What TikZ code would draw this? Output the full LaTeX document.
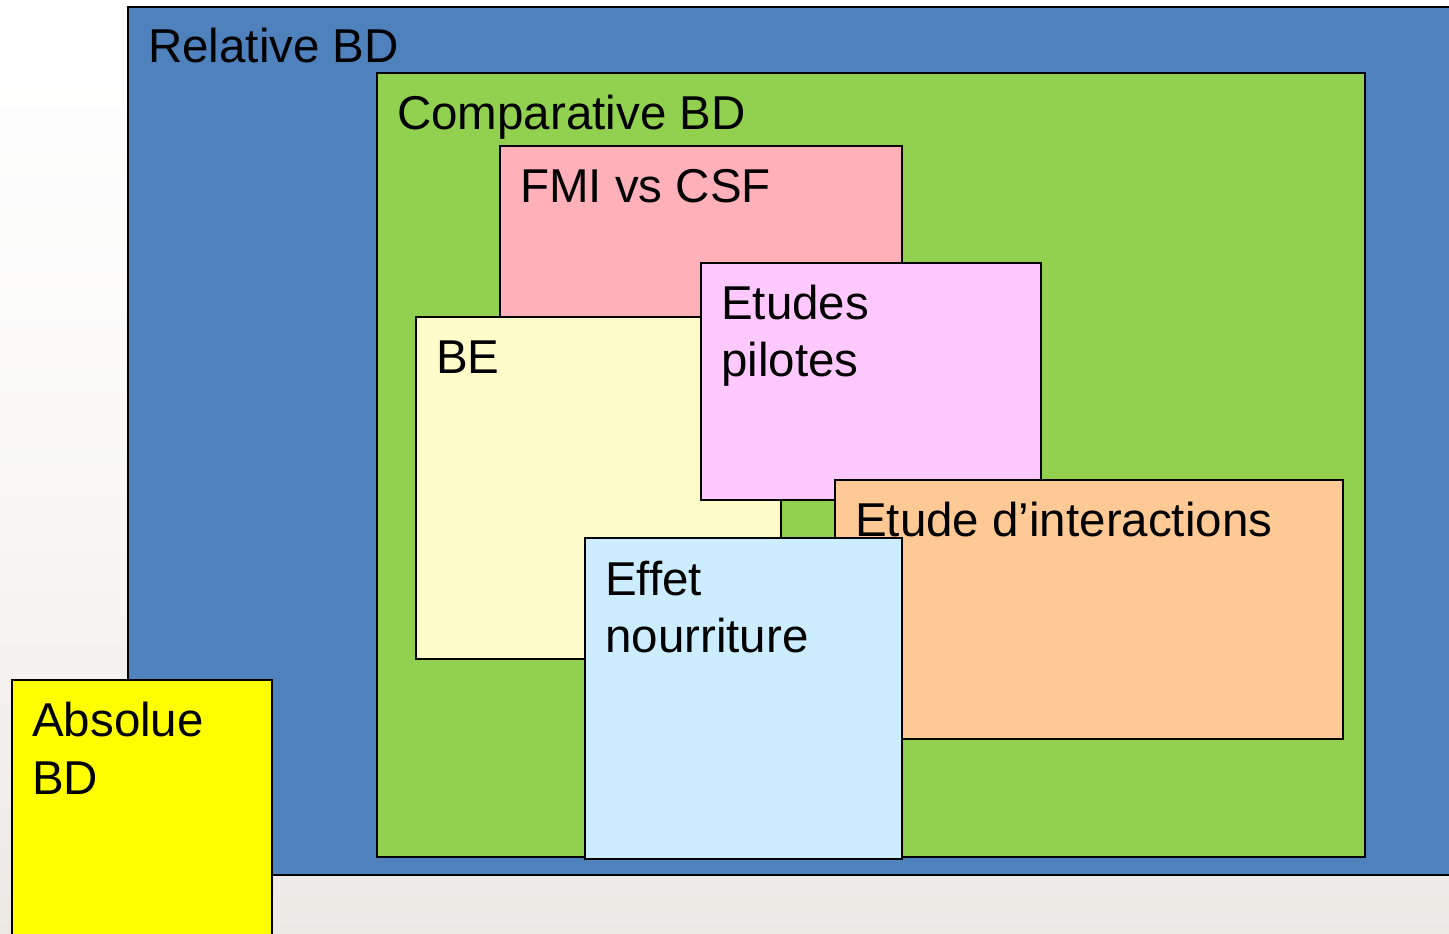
\documentclass[tikz,border=0pt]{standalone}
\usepackage{fontspec}
\setmainfont{Liberation Sans}
\definecolor{relblue}{HTML}{4F81BD}
\definecolor{compgreen}{HTML}{92D050}
\definecolor{fmipink}{HTML}{FFB0B9}
\definecolor{beyellow}{HTML}{FFFCCA}
\definecolor{pilotviolet}{HTML}{FFC8FF}
\definecolor{interpeach}{HTML}{FFC996}
\definecolor{foodblue}{HTML}{CCECFF}
\definecolor{absyellow}{HTML}{FFFF00}
\definecolor{paper}{HTML}{ECE9E5}
\tikzset{
  setbox/.style={draw=black, line width=2pt, inner sep=0pt, outer sep=0pt},
  lbl/.style={anchor=base west, inner sep=0pt, font=\fontsize{47.5}{55}\selectfont},
}
\begin{document}
\begin{tikzpicture}[x=1pt, y=-1pt]
  \clip (0,0) rectangle (1449,934);
  % page background
  \fill[top color=white, bottom color=paper, middle color=white!70!paper]
    (0,0) rectangle (1449,934);

  % nested study sets, back to front
  \path[setbox, fill=relblue]     (128,7)   rectangle (1470,875);
  \coordinate (rel) at (128,7);
  \path[setbox, fill=compgreen]   (377,73)  rectangle (1365,857);
  \coordinate (comp) at (377,73);
  \path[setbox, fill=fmipink]     (500,146) rectangle (902,330);
  \coordinate (fmi) at (500,146);
  \path[setbox, fill=beyellow]    (416,317) rectangle (781,659);
  \coordinate (be) at (416,317);
  \path[setbox, fill=pilotviolet] (701,263) rectangle (1041,500);
  \coordinate (pil) at (701,263);
  \path[setbox, fill=interpeach]  (835,480) rectangle (1343,739);
  \coordinate (inter) at (835,480);
  \path[setbox, fill=foodblue]    (585,538) rectangle (902,859);
  \coordinate (food) at (585,538);
  \path[setbox, fill=absyellow]   (12,680)  rectangle (272,960);
  \coordinate (abs) at (12,680);

  % labels
  \node[lbl] (relA)   at ([shift={(20,56)}]rel)   {Relative BD};
  \node[lbl] (compA)  at ([shift={(20,56)}]comp)  {Comparative BD};
  \node[lbl] (fmiA)   at ([shift={(20,56)}]fmi)   {FMI vs CSF};
  \node[lbl] (beA)    at ([shift={(20,56)}]be)    {BE};
  \node[lbl] (pilA)   at ([shift={(20,56)}]pil)   {Etudes};
  \node[lbl] (pilB)   at ([shift={(20,113)}]pil)  {pilotes};
  \node[lbl] (interA) at ([shift={(20,56)}]inter) {Etude d’interactions};
  \node[lbl] (foodA)  at ([shift={(20,57)}]food)  {Effet};
  \node[lbl] (foodB)  at ([shift={(20,114)}]food) {nourriture};
  \node[lbl] (absA)   at ([shift={(20,56)}]abs)   {Absolue};
  \node[lbl] (absB)   at ([shift={(20,114)}]abs)  {BD};
\end{tikzpicture}
\end{document}
